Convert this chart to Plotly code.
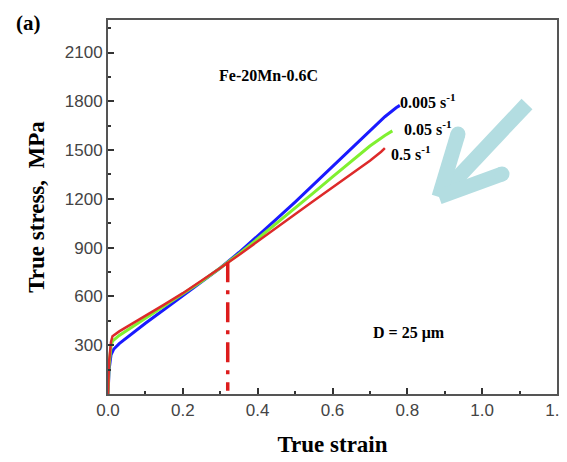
import plotly.graph_objects as go

# Data
strain_0005 = [0, 0.003, 0.008, 0.015, 0.03, 0.06, 0.1, 0.15, 0.2, 0.25, 0.3, 0.35, 0.4, 0.45, 0.5, 0.55, 0.6, 0.65, 0.7, 0.74, 0.77, 0.78]
stress_0005 = [0, 150, 240, 275, 310, 365, 435, 520, 605, 690, 775, 870, 970, 1075, 1180, 1290, 1400, 1510, 1620, 1705, 1760, 1775]

strain_005 = [0, 0.003, 0.008, 0.012, 0.03, 0.06, 0.1, 0.15, 0.2, 0.25, 0.3, 0.35, 0.4, 0.45, 0.5, 0.55, 0.6, 0.65, 0.7, 0.74, 0.76]
stress_005 = [0, 180, 290, 325, 360, 405, 465, 540, 615, 692, 775, 862, 955, 1048, 1142, 1238, 1335, 1430, 1525, 1590, 1618]

strain_05 = [0, 0.003, 0.008, 0.012, 0.03, 0.06, 0.1, 0.15, 0.2, 0.25, 0.3, 0.35, 0.4, 0.45, 0.5, 0.55, 0.6, 0.65, 0.7, 0.73, 0.74]
stress_05 = [0, 200, 320, 355, 385, 425, 480, 550, 620, 695, 775, 855, 940, 1022, 1105, 1188, 1270, 1352, 1435, 1490, 1512]

marker_strain = [0.32, 0.32]
marker_stress = [810, 20]

x_ticks = [0.0, 0.2, 0.4, 0.6, 0.8, 1.0, 1.2]
x_tick_labels = ["0.0", "0.2", "0.4", "0.6", "0.8", "1.0", "1.2"]
y_ticks = [300, 600, 900, 1200, 1500, 1800, 2100]

serif = "Liberation Serif, Times New Roman, serif"
sans = "Liberation Sans, Arial, sans-serif"

fig = go.Figure()
fig.add_trace(go.Scatter(x=strain_0005, y=stress_0005, mode="lines",
                         line=dict(color="#1a1aff", width=3), showlegend=False))
fig.add_trace(go.Scatter(x=strain_005, y=stress_005, mode="lines",
                         line=dict(color="#80f030", width=3), showlegend=False))
fig.add_trace(go.Scatter(x=strain_05, y=stress_05, mode="lines",
                         line=dict(color="#dd2a2a", width=2.5), showlegend=False))
fig.add_trace(go.Scatter(x=marker_strain, y=marker_stress, mode="lines",
                         line=dict(color="#dd1c1c", width=3.5, dash="20px,8px,4px,8px"),
                         showlegend=False))

ann_font = dict(family=serif, size=16, color="black")
annotations = [
    dict(text="<b>(a)</b>", xref="paper", yref="paper", x=-0.21, y=1.03,
         xanchor="left", yanchor="top", showarrow=False,
         font=dict(family=serif, size=21, color="black")),
    dict(text="<b>Fe-20Mn-0.6C</b>", x=0.29, y=1960, xanchor="left", yanchor="middle",
         showarrow=False, font=ann_font),
    dict(text="<b>0.005 s<sup>-1</sup></b>", x=0.775, y=1800, xanchor="left", yanchor="middle",
         showarrow=False, font=ann_font),
    dict(text="<b>0.05 s<sup>-1</sup></b>", x=0.785, y=1635, xanchor="left", yanchor="middle",
         showarrow=False, font=ann_font),
    dict(text="<b>0.5 s<sup>-1</sup></b>", x=0.75, y=1480, xanchor="left", yanchor="middle",
         showarrow=False, font=ann_font),
    dict(text="<b>D = 25 μm</b>", x=0.805, y=375, xanchor="center", yanchor="middle",
         showarrow=False, font=ann_font),
]

# Decorative light-blue arrow (paper coordinates)
W0, H0 = 449.0, 374.0
def px(xp, yp):
    return (xp - 108) / W0, (394 - yp) / H0

arrow_color = "#b3dde1"
shapes = []
for (a, b) in [((527, 104), (446, 190)), ((439, 197), (458, 134)), ((439, 197), (502, 174))]:
    x0, y0 = px(*a)
    x1, y1 = px(*b)
    shapes.append(dict(type="line", xref="paper", yref="paper", x0=x0, y0=y0, x1=x1, y1=y1,
                       line=dict(color=arrow_color, width=15), layer="above"))
for c in [(458, 134), (502, 174)]:
    cx, cy = px(*c)
    r = 7.5
    shapes.append(dict(type="circle", xref="paper", yref="paper",
                       x0=cx - r / W0, x1=cx + r / W0, y0=cy - r / H0, y1=cy + r / H0,
                       fillcolor=arrow_color, line=dict(width=0), layer="above"))

# page body has an 8px margin, so the figure is sized to fit the remaining window
fig.update_layout(
    width=559, height=454,
    margin=dict(l=100, r=10, t=12, b=68, autoexpand=False),
    paper_bgcolor="white", plot_bgcolor="white",
    annotations=annotations,
    shapes=shapes,
    xaxis=dict(
        range=[0, 1.2], tickvals=x_ticks, ticktext=x_tick_labels, automargin=False,
        ticklabeloverflow="allow",
        showgrid=False, zeroline=False,
        showline=True, linecolor="#555555", linewidth=2, mirror=True,
        ticks="inside", ticklen=6, tickwidth=1.5, tickcolor="#333333",
        minor=dict(ticks="inside", ticklen=3, tickwidth=1.5, dtick=0.1, tickcolor="#333333"),
        tickfont=dict(family=sans, size=17, color="#444444"),
        title=dict(text="<b>True strain</b>", font=dict(family=serif, size=23, color="black"),
                   standoff=16),
    ),
    yaxis=dict(
        range=[0, 2300], tickvals=y_ticks, automargin=False,
        showgrid=False, zeroline=False,
        showline=True, linecolor="#555555", linewidth=2, mirror=True,
        ticks="inside", ticklen=6, tickwidth=1.5, tickcolor="#333333",
        minor=dict(ticks="inside", ticklen=3, tickwidth=1.5, dtick=150, tickcolor="#333333"),
        tickfont=dict(family=sans, size=17, color="#444444"),
        title=dict(text="<b>True stress,  MPa</b>", font=dict(family=serif, size=23, color="black"),
                   standoff=14),
    ),
)

fig.write_html("out.html")
